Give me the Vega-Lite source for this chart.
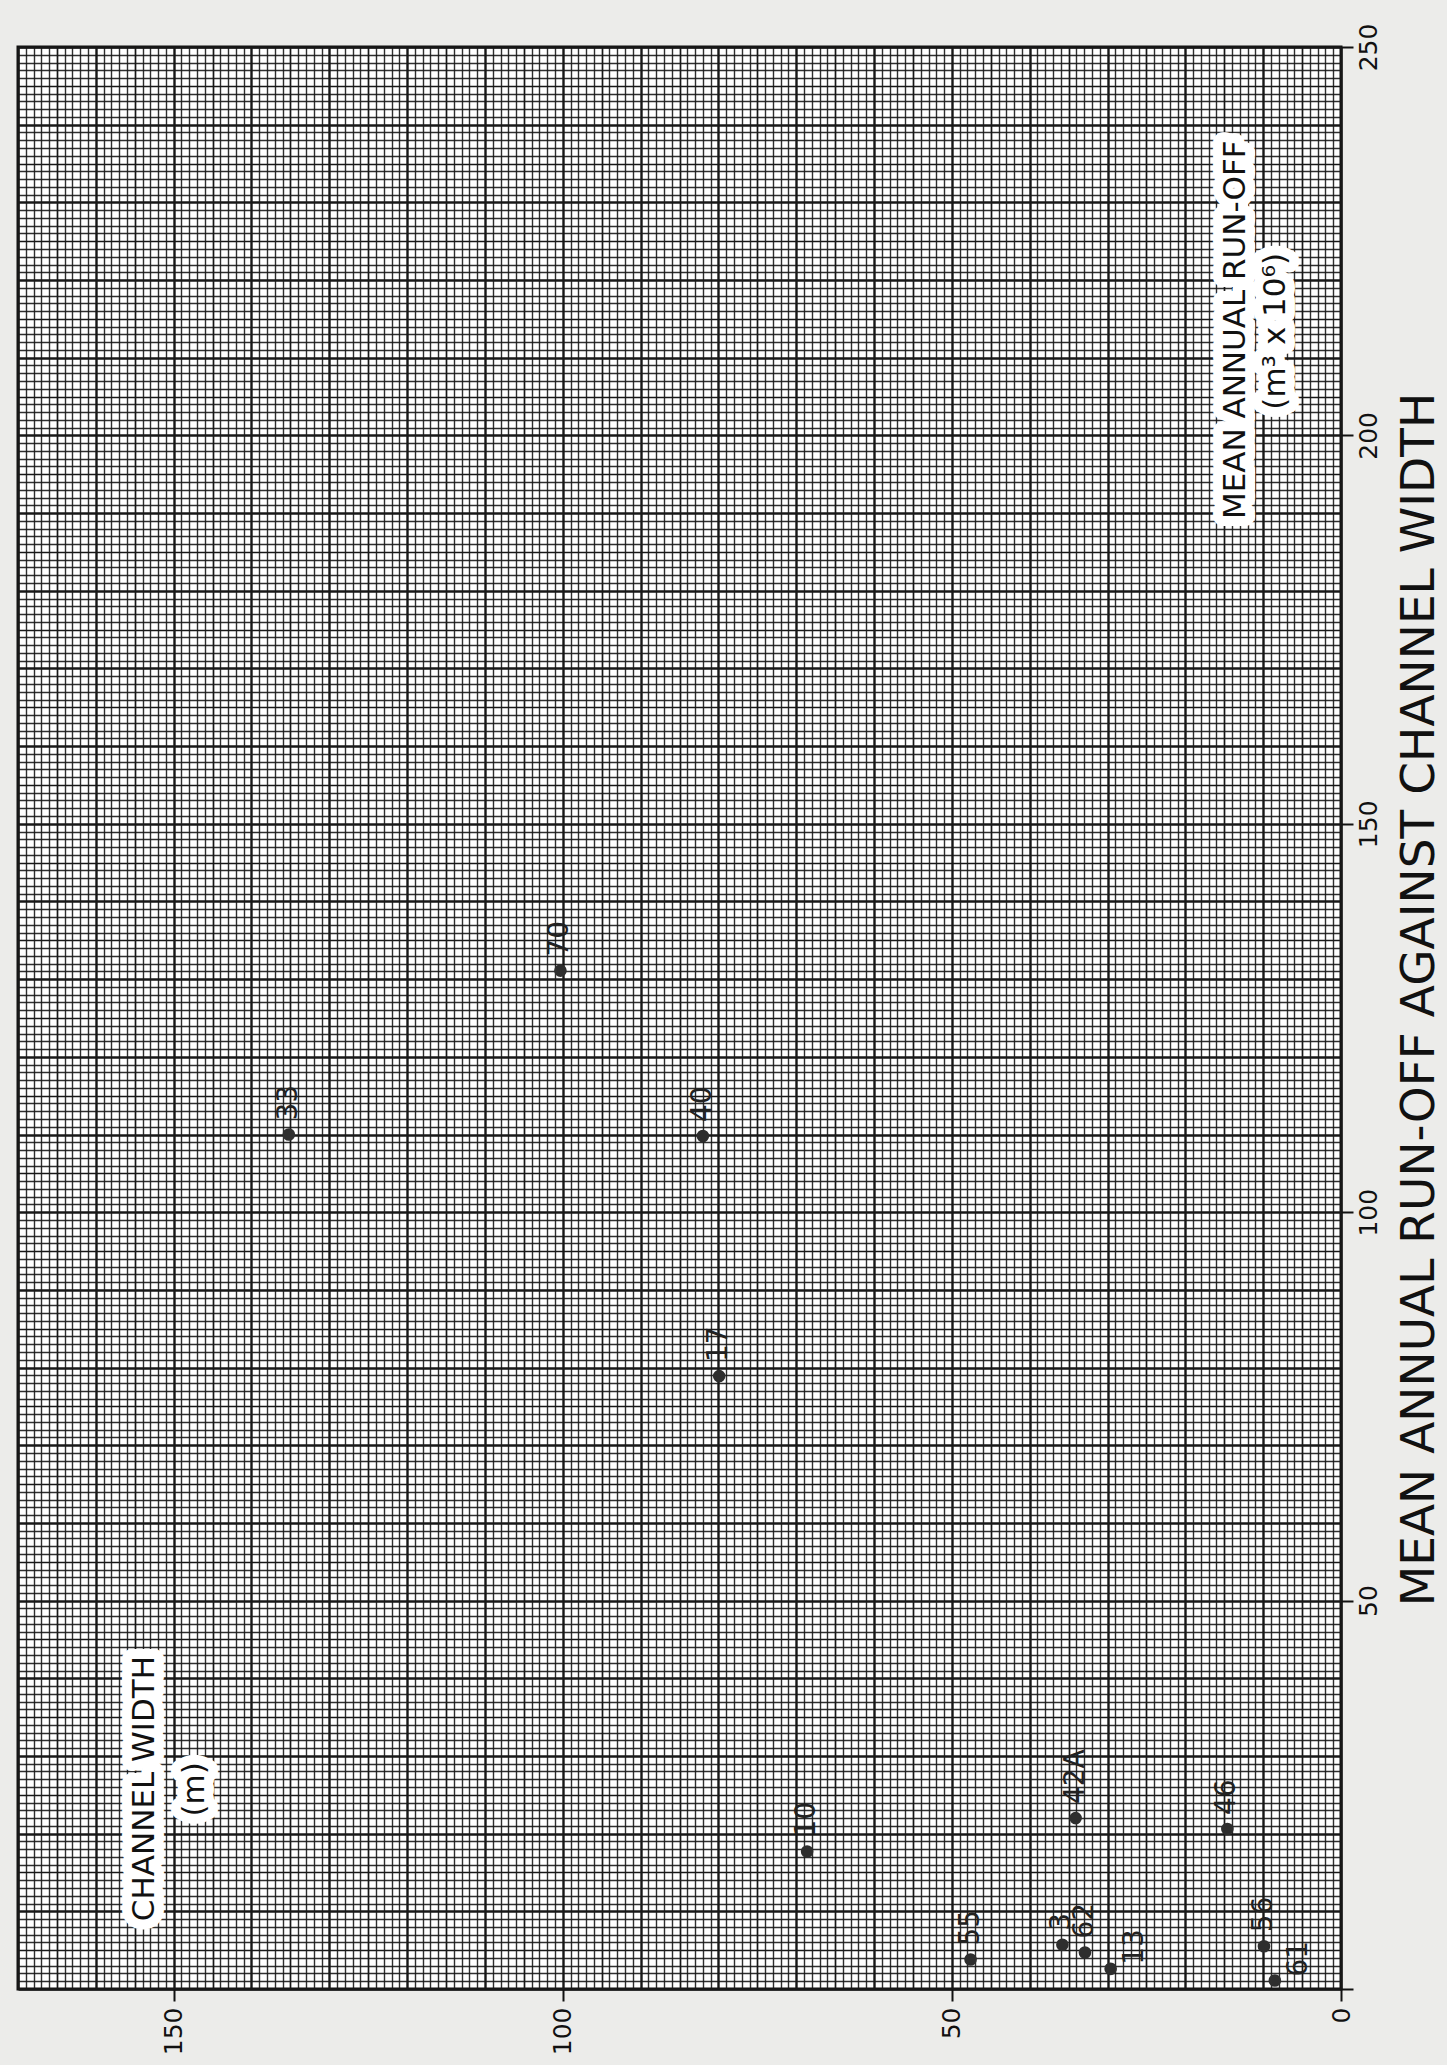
{
  "$schema": "https://vega.github.io/schema/vega-lite/v6.json",
  "width": 1323,
  "height": 1942,
  "autosize": "none",
  "padding": {"left": 18, "top": 47, "right": 106, "bottom": 76},
  "background": "#ececea",
  "config": {"view": {"fill": "#ffffff", "stroke": "#111111", "strokeWidth": 3}},
  "datasets": {
    "points": [
      {"station": "70", "channel_width": 100.3, "runoff": 131.1},
      {"station": "33", "channel_width": 135.2, "runoff": 110.0},
      {"station": "40", "channel_width": 82.0, "runoff": 109.8},
      {"station": "17", "channel_width": 79.9, "runoff": 78.9},
      {"station": "10", "channel_width": 68.6, "runoff": 17.7},
      {"station": "42A", "channel_width": 34.1, "runoff": 22.0},
      {"station": "46", "channel_width": 14.6, "runoff": 20.6},
      {"station": "55", "channel_width": 47.6, "runoff": 3.8},
      {"station": "3", "channel_width": 35.8, "runoff": 5.7},
      {"station": "62", "channel_width": 32.9, "runoff": 4.7},
      {"station": "13", "channel_width": 29.6, "runoff": 2.6},
      {"station": "56", "channel_width": 9.9, "runoff": 5.5},
      {"station": "61", "channel_width": 8.5, "runoff": 1.1}
    ],
    "notes": [
      {"note": "CHANNEL WIDTH", "channel_width": 153.7, "runoff": 25.8},
      {"note": "(m)", "channel_width": 147.3, "runoff": 25.7},
      {"note": "MEAN ANNUAL RUN-OFF", "channel_width": 13.5, "runoff": 213.6},
      {"note": "(m³ x 10⁶)", "channel_width": 8.4, "runoff": 213.4}
    ]
  },
  "encoding": {
    "x": {
      "field": "channel_width",
      "type": "quantitative",
      "scale": {"domain": [0, 170], "reverse": true, "nice": false, "zero": false},
      "axis": {
        "orient": "bottom",
        "title": null,
        "tickCount": 170,
        "grid": true,
        "gridColor": "#181818",
        "gridWidth": {"condition": [{"test": "datum.value % 10 === 0", "value": 2.4}, {"test": "datum.value % 5 === 0", "value": 1.7}], "value": 1.4},
        "gridOpacity": {"condition": {"test": "datum.value % 5 === 0", "value": 1}, "value": 0.9},
        "domain": false,
        "ticks": true,
        "tickSize": 12,
        "tickWidth": 2,
        "tickColor": "#111111",
        "tickOpacity": {"condition": {"test": "datum.value % 50 === 0", "value": 1}, "value": 0},
        "labelExpr": "datum.value % 50 === 0 ? datum.label : ''",
        "labelAngle": 270,
        "labelAlign": "right",
        "labelBaseline": "middle",
        "labelPadding": 6,
        "labelFont": "DejaVu Sans",
        "labelFontSize": 25,
        "labelColor": "#111111",
        "labelOverlap": false,
        "labelFlush": false,
        "labelBound": false
      }
    },
    "y": {
      "field": "runoff",
      "type": "quantitative",
      "scale": {"domain": [0, 250], "nice": false, "zero": false},
      "axis": {
        "orient": "right",
        "title": "MEAN ANNUAL RUN-OFF AGAINST CHANNEL WIDTH",
        "titleAngle": 270,
        "titleX": 78,
        "titleY": 952,
        "titleAlign": "center",
        "titleBaseline": "middle",
        "titleFont": "DejaVu Sans",
        "titleFontSize": 47,
        "titleFontWeight": "normal",
        "titleColor": "#111111",
        "tickCount": 250,
        "grid": true,
        "gridColor": "#181818",
        "gridWidth": {"condition": [{"test": "datum.value % 10 === 0", "value": 2.4}, {"test": "datum.value % 5 === 0", "value": 1.7}], "value": 1.4},
        "gridOpacity": {"condition": {"test": "datum.value % 5 === 0", "value": 1}, "value": 0.9},
        "domain": false,
        "ticks": true,
        "tickSize": 12,
        "tickWidth": 2,
        "tickColor": "#111111",
        "tickOpacity": {"condition": {"test": "datum.value % 50 === 0", "value": 1}, "value": 0},
        "labelExpr": "datum.value % 50 === 0 && datum.value > 0 ? datum.label : ''",
        "labelAngle": 270,
        "labelAlign": "center",
        "labelBaseline": "top",
        "labelPadding": 3,
        "labelFont": "DejaVu Sans",
        "labelFontSize": 25,
        "labelColor": "#111111",
        "labelOverlap": false,
        "labelFlush": false,
        "labelBound": false
      }
    }
  },
  "layer": [
    {
      "data": {"name": "notes"},
      "mark": {"type": "text", "angle": 270, "align": "center", "baseline": "middle", "font": "DejaVu Sans", "fontSize": 31, "fill": "#ffffff", "stroke": "#ffffff", "strokeWidth": 20, "strokeJoin": "round"},
      "encoding": {"text": {"field": "note"}}
    },
    {
      "data": {"name": "notes"},
      "mark": {"type": "text", "angle": 270, "align": "center", "baseline": "middle", "font": "DejaVu Sans", "fontSize": 31, "color": "#111111"},
      "encoding": {"text": {"field": "note"}}
    },
    {
      "data": {"name": "points"},
      "mark": {"type": "circle", "size": 160, "opacity": 1, "color": "#2e2e2e"}
    },
    {
      "data": {"name": "points"},
      "transform": [{"filter": {"not": {"field": "station", "oneOf": ["13", "61"]}}}],
      "mark": {"type": "text", "angle": 270, "align": "left", "baseline": "middle", "dx": 14, "font": "DejaVu Sans", "fontSize": 28, "color": "#222222"},
      "encoding": {"text": {"field": "station"}}
    },
    {
      "data": {"name": "points"},
      "transform": [{"filter": {"field": "station", "oneOf": ["13", "61"]}}],
      "mark": {"type": "text", "angle": 270, "align": "left", "baseline": "middle", "dx": 4, "dy": 24, "font": "DejaVu Sans", "fontSize": 28, "color": "#222222"},
      "encoding": {"text": {"field": "station"}}
    }
  ]
}
